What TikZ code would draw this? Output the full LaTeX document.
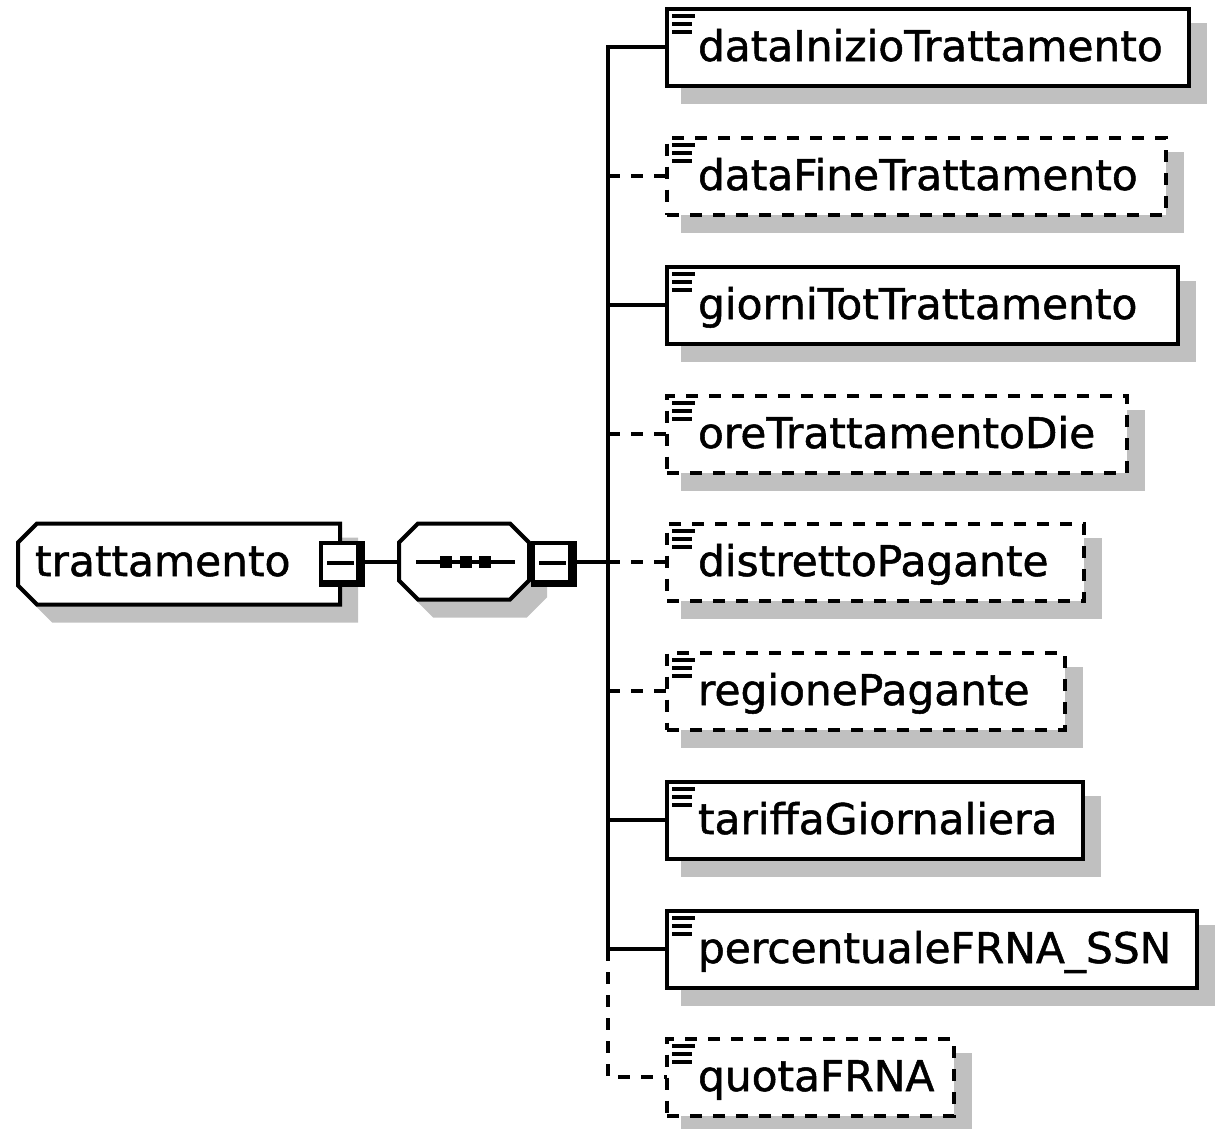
\documentclass[tikz,border=0pt]{standalone}
\usepackage{fontspec}
\newfontfamily\elemfont[FakeBold=1.2]{DejaVu Sans}
\definecolor{shadowgray}{RGB}{192,192,192}
\tikzset{
  conn/.style={line width=4pt, line join=miter},
  optconn/.style={conn, dash pattern=on 12pt off 11pt},
  elembox/.style={rectangle, draw, fill=white, line width=4pt, inner sep=0pt, outer sep=0pt,
    anchor=west, minimum height=77pt},
  optbox/.style={elembox, dash pattern=on 12pt off 11pt},
  lbl/.style={anchor=base west, inner sep=0pt, outer sep=0pt,
    font={\elemfont\fontsize{42.3}{48}\selectfont}},
  shadowfill/.style={fill=shadowgray, draw=shadowgray, line width=4pt},
  minusbox/.style={rectangle, fill=black, inner sep=0pt, outer sep=0pt,
    minimum width=46pt, minimum height=46pt,
    path picture={
      \fill[white] ([shift={(4pt,-4pt)}]path picture bounding box.north west)
        rectangle ([shift={(-9pt,7pt)}]path picture bounding box.south east);
      \draw[line width=4pt] ([shift={(8pt,1.5pt)}]path picture bounding box.west)
        -- ([shift={(-11pt,1.5pt)}]path picture bounding box.east);
    }},
  anchorbox/.style={rectangle, inner sep=0pt, outer sep=0pt}
}
% #1 name, #2 center y, #3 right outer x, #4 style, #5 text
\newcommand\xsdelem[5]{%
  \filldraw[shadowfill] (683,{#2-22.5}) rectangle ({#3+14},{#2+54.5});
  \node[#4, minimum width={#3pt-669pt}] (#1) at (667,#2) {};
  \draw[line width=4pt] (672,{#2-31.5}) -- (695,{#2-31.5})
    (672,{#2-23.5}) -- (692,{#2-23.5})
    (672,{#2-15.5}) -- (692,{#2-15.5});
  \node[lbl] (#1t) at (698,{#2+14}) {#5};
}
\begin{document}
\begin{tikzpicture}[x=1pt, y=-1pt]
\useasboundingbox (0,0) rectangle (1217,1128);

% ---- root element "trattamento"
\filldraw[shadowfill] (53,539.5) -- (356,539.5) -- (356,620.5) -- (53,620.5)
  -- (34,601.5) -- (34,558.5) -- cycle;
\filldraw[fill=white, draw=black, line width=4pt, line join=miter]
  (37,523.5) -- (340,523.5) -- (340,604.5) -- (37,604.5)
  -- (18,585.5) -- (18,542.5) -- cycle;
\node[anchorbox, minimum width=322pt, minimum height=81pt] (root) at (179,564) {};
\node[lbl] (roott) at (35,576) {trattamento};
\node[minusbox] (rootminus) at (342,564) {};

% ---- sequence compositor
\filldraw[shadowfill] (434,539.5) -- (526,539.5) -- (545,558.5) -- (545,596.5)
  -- (526,615.5) -- (434,615.5) -- (415,596.5) -- (415,558.5) -- cycle;
\filldraw[fill=white, draw=black, line width=4pt, line join=miter]
  (418,523.5) -- (510,523.5) -- (529,542.5) -- (529,580.5)
  -- (510,599.5) -- (418,599.5) -- (399,580.5) -- (399,542.5) -- cycle;
\node[anchorbox, minimum width=130pt, minimum height=76pt] (seq) at (464,562) {};
\draw[line width=4pt] (416,562) -- (515,562);
\fill (440,556) rectangle (452,568);
\fill (459.5,556) rectangle (471.5,568);
\fill (479,556) rectangle (491,568);
\node[minusbox] (seqminus) at (554,564) {};

\draw[conn] (rootminus.east |- 0,562) -- (seq.west |- 0,562);

% ---- child elements
\xsdelem{e1}{47}{1191}{elembox}{dataInizioTrattamento}
\xsdelem{e2}{176}{1168}{optbox}{dataFineTrattamento}
\xsdelem{e3}{305}{1180}{elembox}{giorniTotTrattamento}
\xsdelem{e4}{434}{1129}{optbox}{oreTrattamentoDie}
\xsdelem{e5}{562}{1086}{optbox}{distrettoPagante}
\xsdelem{e6}{691}{1067}{optbox}{regionePagante}
\xsdelem{e7}{820}{1085}{elembox}{tariffaGiornaliera}
\xsdelem{e8}{949}{1199}{elembox}{percentualeFRNA\_SSN}
\xsdelem{e9}{1077}{956}{optbox}{quotaFRNA}

% ---- connectors
\foreach \i/\y in {1/47,2/176,3/305,4/434,5/562,6/691,7/820,8/949,9/1077}
  \coordinate (j\i) at (608,\y);
\draw[conn] (seqminus.east |- 0,562) -- (j5);
\draw[conn] (e1.west) -- (j1) -- (j8) -- (e8.west);
\draw[optconn] (j8) -- (j9) -- (e9.west);
\draw[optconn] (j2) -- (e2.west);
\draw[conn] (j3) -- (e3.west);
\draw[optconn] (j4) -- (e4.west);
\draw[optconn] (j5) -- (e5.west);
\draw[optconn] (j6) -- (e6.west);
\draw[conn] (j7) -- (e7.west);
\end{tikzpicture}
\end{document}
